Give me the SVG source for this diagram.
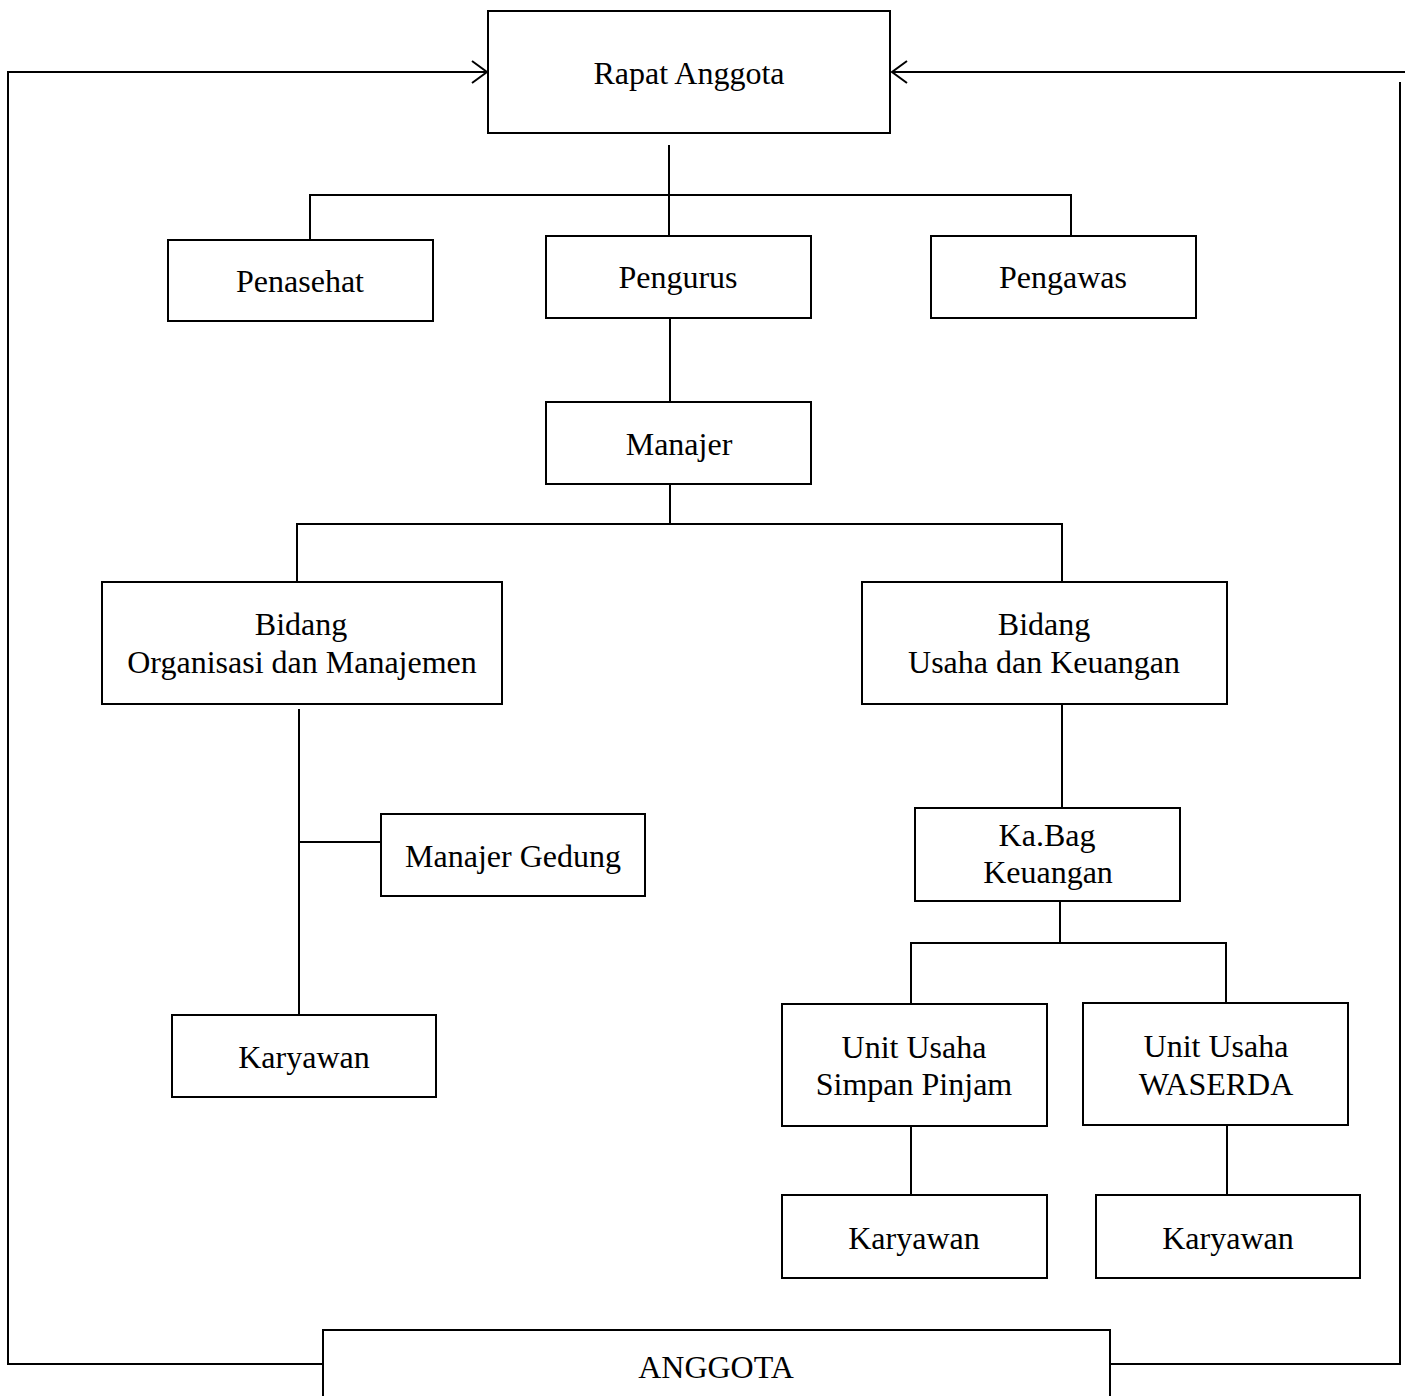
<svg xmlns="http://www.w3.org/2000/svg" width="1411" height="1396" viewBox="0 0 1411 1396">
<style>
.box{fill:#fff;stroke:#000;stroke-width:2}
.ln{fill:none;stroke:#000;stroke-width:2}
text{font-family:"Liberation Serif","Times New Roman",serif;font-size:32px;fill:#000;text-anchor:middle}
</style>
<defs>
<marker id="arr" markerWidth="20" markerHeight="26" refX="16" refY="12" orient="auto" markerUnits="userSpaceOnUse">
<path d="M1,1 L16,12 L1,23" fill="none" stroke="#000" stroke-width="2"/>
</marker>
</defs>
<rect width="1411" height="1396" fill="#fff"/>
<g id="connectors">
<path class="ln" d="M323,1364 H8 V72 H487" marker-end="url(#arr)"/>
<path class="ln" d="M1110,1364 H1400 V82"/>
<path class="ln" d="M1405,72 H892" marker-end="url(#arr)"/>
<path class="ln" d="M669,145 V236"/>
<path class="ln" d="M310,240 V195 H1071 V236"/>
<path class="ln" d="M670,318 V402"/>
<path class="ln" d="M670,484 V524"/>
<path class="ln" d="M297,582 V524 H1062 V582"/>
<path class="ln" d="M299,709 V1015"/>
<path class="ln" d="M299,842 H381"/>
<path class="ln" d="M1062,704 V808"/>
<path class="ln" d="M1060,901 V943"/>
<path class="ln" d="M911,1004 V943 H1226 V1003"/>
<path class="ln" d="M911,1126 V1195"/>
<path class="ln" d="M1227,1125 V1195"/>
</g>
<g id="rapat-anggota"><rect class="box" x="488" y="11" width="402" height="122"/><text x="689" y="84">Rapat Anggota</text></g>
<g id="penasehat"><rect class="box" x="168" y="240" width="265" height="81"/><text x="300" y="292">Penasehat</text></g>
<g id="pengurus"><rect class="box" x="546" y="236" width="265" height="82"/><text x="678" y="288">Pengurus</text></g>
<g id="pengawas"><rect class="box" x="931" y="236" width="265" height="82"/><text x="1063" y="288">Pengawas</text></g>
<g id="manajer"><rect class="box" x="546" y="402" width="265" height="82"/><text x="679" y="455">Manajer</text></g>
<g id="bidang-org"><rect class="box" x="102" y="582" width="400" height="122"/><text x="301" y="635">Bidang</text><text x="302" y="673">Organisasi dan Manajemen</text></g>
<g id="bidang-usaha"><rect class="box" x="862" y="582" width="365" height="122"/><text x="1044" y="635">Bidang</text><text x="1044" y="673">Usaha dan Keuangan</text></g>
<g id="manajer-gedung"><rect class="box" x="381" y="814" width="264" height="82"/><text x="513" y="867">Manajer Gedung</text></g>
<g id="karyawan-1"><rect class="box" x="172" y="1015" width="264" height="82"/><text x="304" y="1068">Karyawan</text></g>
<g id="kabag"><rect class="box" x="915" y="808" width="265" height="93"/><text x="1047" y="846">Ka.Bag</text><text x="1048" y="883">Keuangan</text></g>
<g id="unit-sp"><rect class="box" x="782" y="1004" width="265" height="122"/><text x="914" y="1058">Unit Usaha</text><text x="914" y="1095">Simpan Pinjam</text></g>
<g id="unit-waserda"><rect class="box" x="1083" y="1003" width="265" height="122"/><text x="1216" y="1057">Unit Usaha</text><text x="1216" y="1095">WASERDA</text></g>
<g id="karyawan-2"><rect class="box" x="782" y="1195" width="265" height="83"/><text x="914" y="1249">Karyawan</text></g>
<g id="karyawan-3"><rect class="box" x="1096" y="1195" width="264" height="83"/><text x="1228" y="1249">Karyawan</text></g>
<g id="anggota"><rect class="box" x="323" y="1330" width="787" height="80"/><text x="716" y="1378">ANGGOTA</text></g>
</svg>
